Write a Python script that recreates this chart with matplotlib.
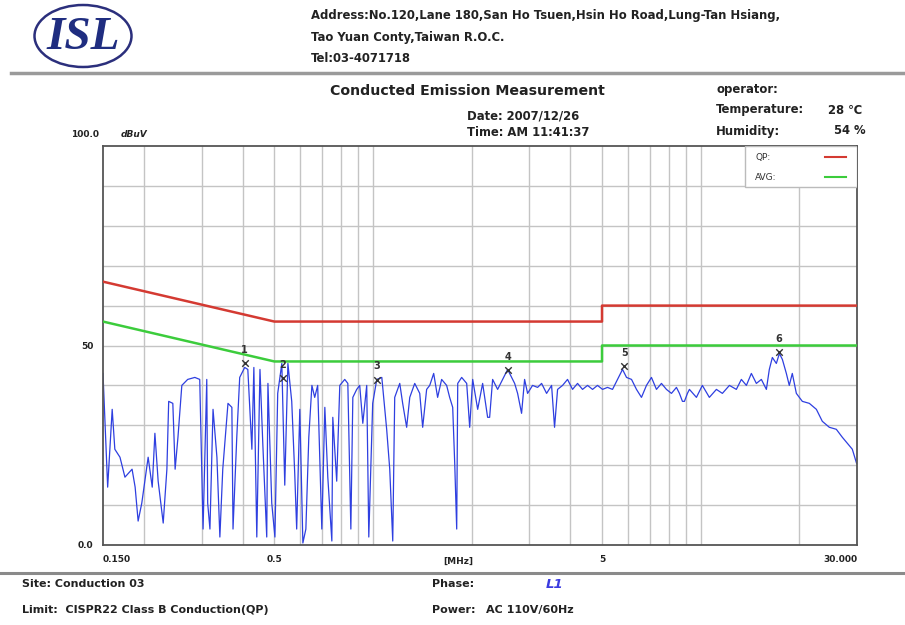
import matplotlib.pyplot as plt
from matplotlib.patches import Ellipse, Rectangle
from matplotlib.lines import Line2D

plt.rcParams['font.family'] = ['DejaVu Sans']

freq = [0.150, 0.155, 0.160, 0.163, 0.169, 0.175, 0.184, 0.188, 0.192, 0.197,
        0.206, 0.212, 0.216, 0.221, 0.229, 0.235, 0.238, 0.245, 0.249, 0.254,
        0.261, 0.272, 0.286, 0.296, 0.301, 0.303, 0.311, 0.313, 0.318, 0.325,
        0.334, 0.341, 0.348, 0.361, 0.371, 0.374, 0.384, 0.392, 0.406, 0.415,
        0.427, 0.433, 0.442, 0.452, 0.461, 0.474, 0.478, 0.491, 0.502, 0.512,
        0.527, 0.538, 0.550, 0.565, 0.577, 0.585, 0.598, 0.611, 0.624, 0.637,
        0.651, 0.664, 0.678, 0.698, 0.713, 0.728, 0.749, 0.754, 0.775, 0.792,
        0.820, 0.838, 0.856, 0.868, 0.892, 0.911, 0.931, 0.957, 0.971, 0.998,
        1.027, 1.064, 1.101, 1.125, 1.149, 1.165, 1.207, 1.232, 1.267, 1.295,
        1.341, 1.389, 1.418, 1.458, 1.490, 1.532, 1.575, 1.620, 1.678, 1.714,
        1.751, 1.776, 1.801, 1.814, 1.865, 1.932, 1.973, 2.015, 2.087, 2.161,
        2.238, 2.270, 2.318, 2.401, 2.487, 2.576, 2.649, 2.706, 2.763, 2.841,
        2.902, 2.964, 3.069, 3.180, 3.270, 3.387, 3.508, 3.582, 3.659, 3.789,
        3.924, 4.065, 4.210, 4.360, 4.517, 4.678, 4.844, 5.018, 5.196, 5.383,
        5.575, 5.775, 5.940, 6.152, 6.370, 6.597, 6.833, 7.077, 7.330, 7.592,
        7.863, 8.145, 8.435, 8.614, 8.799, 8.923, 9.113, 9.241, 9.707, 10.12,
        10.63, 11.17, 11.65, 12.24, 12.85, 13.31, 13.79, 14.28, 14.79, 15.32,
        15.87, 16.20, 16.55, 17.02, 17.39, 17.76, 18.26, 18.64, 19.04, 19.59,
        20.43, 21.46, 22.55, 23.51, 24.70, 25.94, 27.06, 28.03, 29.03, 29.9]
level = [43, 14.5, 34, 24, 22, 17, 19, 14.5, 6, 10.5,
         22, 14.5, 28, 16, 5.5, 19, 36, 35.5, 19, 27,
         40, 41.5, 42, 41.5, 14.5, 4, 41.5, 10.5, 4, 34,
         22, 2, 19, 35.5, 34.5, 4, 27, 42, 44.5, 44,
         24, 44.5, 2, 44, 25.5, 2, 40.5, 10.5, 2, 38,
         45.5, 15, 45.5, 36, 18, 4, 34, 0.5, 4, 27,
         40, 37, 40, 4, 34.5, 17, 1, 32, 16, 40,
         41.5, 40.5, 4, 37, 39, 40, 30.5, 40, 2, 35.5,
         41.5, 42, 29, 19, 1, 37, 40.5, 35.5, 29.5, 37,
         40.5, 38, 29.5, 39, 40, 43, 37, 41.5, 40, 37,
         34.5, 20.5, 4, 40.5, 42, 40.5, 29.5, 41.5, 34, 40.5,
         32, 32, 41.5, 39, 41.5, 44, 42, 40.5, 38, 33,
         41.5, 38, 40, 39.5, 40.5, 38, 40, 29.5, 39, 40,
         41.5, 39, 40.5, 39, 40, 39, 40, 39, 39.5, 39,
         41.5, 44, 42, 41.5, 39, 37, 40, 42, 39, 40.5,
         39, 38, 39.5, 38, 36, 36, 38, 39, 37, 40,
         37, 39, 38, 40, 39, 41.5, 40, 43, 40.5, 41.5,
         39, 44, 47, 45.5, 48, 46.5, 43, 40, 43, 38,
         36, 35.5, 34, 31, 29.5, 29, 27, 25.5, 24, 20.5]

# CISPR22 class B limits
qp_freq = [0.15, 0.5, 5, 5, 30]
qp_level = [66, 56, 56, 60, 60]
avg_freq = [0.15, 0.5, 5, 5, 30]
avg_level = [56, 46, 46, 50, 50]

# marked peaks
mk_no = ['1', '2', '3', '4', '5', '6']
mk_freq = [0.406, 0.531, 1.03, 2.59, 5.85, 17.3]
mk_level = [45.5, 41.8, 41.4, 43.9, 44.9, 48.4]

grid_f = [0.2, 0.3, 0.4, 0.5, 0.6, 0.7, 0.8, 0.9, 1, 2, 3, 4, 5, 6, 7, 8, 9, 10, 20]
xlab_f = [0.15, 0.5, 5, 30]
xlab_t = ['0.150', '0.5', '5', '30.000']

W, H = 905, 625
fig = plt.figure(figsize=(9.05, 6.25), dpi=100)
fig.patch.set_facecolor('white')

def fx(px):
    return px / W

def fy(py):
    return 1 - py / H

# header
fig.add_artist(Ellipse((fx(83), fy(36)), 97 / W, 62 / H, transform=fig.transFigure,
                       fill=False, ec='#2b2f7c', lw=1.8))
fig.text(fx(83), fy(38), 'ISL', family='Liberation Serif', weight='bold', style='italic',
         size=34, color='#1f2d80', ha='center', va='center')
txt = dict(weight='bold', size=8.4, color='#222222', va='center')
fig.text(fx(311), fy(16), 'Address:No.120,Lane 180,San Ho Tsuen,Hsin Ho Road,Lung-Tan Hsiang,', **txt)
fig.text(fx(311), fy(37), 'Tao Yuan Conty,Taiwan R.O.C.', **txt)
fig.text(fx(311), fy(58), 'Tel:03-4071718', **txt)
fig.add_artist(Line2D([0.012, 1], [fy(73), fy(73)], transform=fig.transFigure, color='#9a9a9a', lw=2.5))

fig.text(fx(467), fy(91), 'Conducted Emission Measurement', weight='bold', size=10.2,
         color='#222222', ha='center', va='center')
fig.text(fx(467), fy(116), 'Date: 2007/12/26', **txt)
fig.text(fx(467), fy(133), 'Time: AM 11:41:37', **txt)
fig.text(fx(716), fy(90), 'operator:', **txt)
fig.text(fx(716), fy(110), 'Temperature:', **txt)
fig.text(fx(828), fy(110), '28 ℃', **txt)
fig.text(fx(716), fy(131), 'Humidity:', **txt)
fig.text(fx(834), fy(131), '54 %', **txt)

# plot
ax = fig.add_axes([fx(103), fy(545), (857 - 103) / W, (545 - 146) / H])
ax.set_xscale('log')
ax.set_xlim(0.15, 30)
ax.set_ylim(0, 100)
for f in grid_f:
    ax.axvline(f, color='#c4c4c4', lw=1, zorder=0)
for v in range(10, 100, 10):
    ax.axhline(v, color='#c4c4c4', lw=1, zorder=0)

ax.plot(freq, level, color='#2e3fe0', lw=0.9, zorder=2)
ax.plot(qp_freq, qp_level, color='#d43a32', lw=1.8, zorder=3)
ax.plot(avg_freq, avg_level, color='#3ccc3c', lw=1.8, zorder=3)
ax.scatter(mk_freq, mk_level, marker='x', s=22, color='#333333', lw=1, zorder=4)
for n, f, v in zip(mk_no, mk_freq, mk_level):
    ax.annotate(n, (f, v), xytext=(0, 6), textcoords='offset points', ha='center',
                va='bottom', size=7, weight='bold', color='#333333', zorder=4)

ax.xaxis.set_major_locator(plt.FixedLocator(xlab_f))
ax.xaxis.set_minor_locator(plt.NullLocator())
ax.set_xticklabels(xlab_t)
for lab, ha in zip(ax.get_xticklabels(), ['left', 'center', 'center', 'right']):
    lab.set_ha(ha)
ax.set_yticks([0, 50])
ax.set_yticklabels(['0.0', '50'])
ax.tick_params(length=0, labelsize=6.5, colors='#222222', pad=7)
for lab in ax.get_xticklabels() + ax.get_yticklabels():
    lab.set_fontweight('bold')
ax.text(0.471, -0.041, '[MHz]', transform=ax.transAxes, ha='center', va='center',
        size=6.5, weight='bold', color='#222222')
ax.text(-0.005, 1.028, '100.0', transform=ax.transAxes, ha='right', va='center',
        size=6.5, weight='bold', color='#222222')
ax.text(0.024, 1.028, 'dBuV', transform=ax.transAxes, ha='left', va='center',
        size=6.5, weight='bold', style='italic', color='#222222')
for s in ax.spines.values():
    s.set_color('#555555')
    s.set_linewidth(1.3)

# legend box
ax.add_patch(Rectangle((0.852, 0.897), 0.148, 0.103, transform=ax.transAxes,
                       fc='white', ec='#bbbbbb', lw=1, zorder=5))
ax.text(0.865, 0.972, 'QP:', transform=ax.transAxes, size=6.5, va='center', color='#333333', zorder=6)
ax.text(0.865, 0.922, 'AVG:', transform=ax.transAxes, size=6.5, va='center', color='#333333', zorder=6)
ax.plot([0.958, 0.986], [0.972, 0.972], transform=ax.transAxes, color='#d43a32', lw=1.5, zorder=6)
ax.plot([0.958, 0.986], [0.922, 0.922], transform=ax.transAxes, color='#3ccc3c', lw=1.5, zorder=6)

# footer
fig.add_artist(Line2D([0, 1], [fy(573), fy(573)], transform=fig.transFigure, color='#8a8a8a', lw=2.2))
ftxt = dict(weight='bold', size=8.0, color='#222222', va='center')
fig.text(fx(22), fy(584), 'Site: Conduction 03', **ftxt)
fig.text(fx(22), fy(610), 'Limit:  CISPR22 Class B Conduction(QP)', **ftxt)
fig.text(fx(432), fy(584), 'Phase:', **ftxt)
fig.text(fx(546), fy(584), 'L1', weight='bold', style='italic', size=9.5, color='#3b3be0', va='center')
fig.text(fx(432), fy(610), 'Power:', **ftxt)
fig.text(fx(486), fy(610), 'AC 110V/60Hz', **ftxt)

fig.savefig('out.png', dpi=100)
